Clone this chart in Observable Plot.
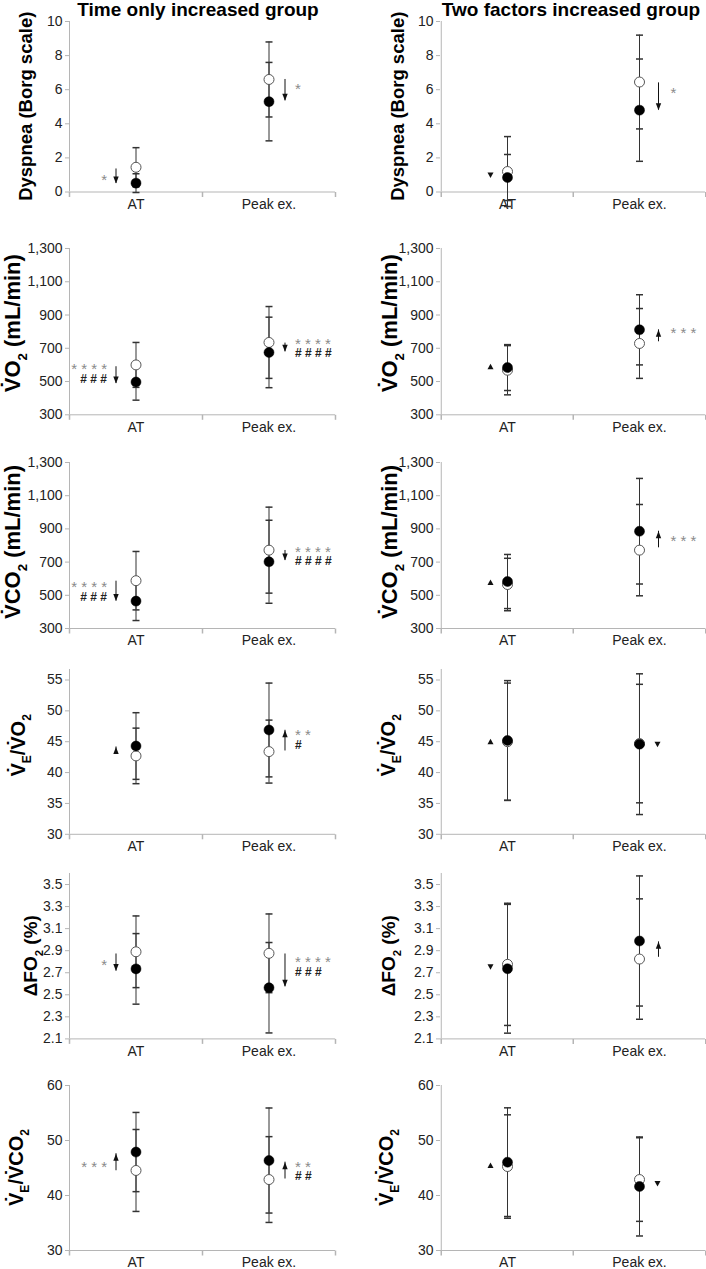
<!DOCTYPE html>
<html>
<head>
<meta charset="utf-8">
<script src="https://cdn.jsdelivr.net/npm/d3@7"></script>
<script src="https://cdn.jsdelivr.net/npm/@observablehq/plot@0.6"></script>
<style>
  body { margin: 0; background: #fff; }
  #chart { position: relative; width: 706px; height: 1269px; font-family: "Liberation Sans", Arial, sans-serif; overflow: hidden; }
  #chart svg { position: absolute; }
  .title { position: absolute; top: -1px; font-weight: bold; font-size: 19px; line-height: 22px; white-space: nowrap; transform: translateX(-50%); color: #000; }
</style>
</head>
<body>
<div id="chart"></div>
<script>
// ---------- categories ----------
const categories = ["AT", "Peak ex."];
const groups = ["Time only increased group", "Two factors increased group"];

// ---------- values: [time-only group, two-factors group] x [AT, Peak ex.] ----------
// open circle = before, filled circle = after; SD = error bar half-length
const dyspneaOpen = [[1.45, 6.6], [1.2, 6.45]];
const dyspneaOpenSD = [[1.15, 2.2], [2.05, 2.75]];
const dyspneaFilled = [[0.52, 5.3], [0.85, 4.8]];
const dyspneaFilledSD = [[0.55, 2.3], [1.35, 3.0]];

const vo2Open = [[600, 735], [568, 729]];
const vo2OpenSD = [[135, 216], [148, 210]];
const vo2Filled = [[497, 675], [584, 811]];
const vo2FilledSD = [[109, 212], [138, 211]];

const vco2Open = [[588, 772], [565, 772]];
const vco2OpenSD = [[176, 259], [158, 275]];
const vco2Filled = [[465, 702], [583, 886]];
const vco2FilledSD = [[117, 250], [163, 318]];

const vevo2Open = [[42.7, 43.4], [45.0, 44.7]];
const vevo2OpenSD = [[4.5, 5.1], [9.5, 9.6]];
const vevo2Filled = [[44.3, 46.9], [45.2, 44.6]];
const vevo2FilledSD = [[5.4, 7.6], [9.7, 11.4]];

const dfo2Open = [[2.89, 2.876], [2.776, 2.824]];
const dfo2OpenSD = [[0.325, 0.357], [0.554, 0.546]];
const dfo2Filled = [[2.735, 2.564], [2.736, 2.988]];
const dfo2FilledSD = [[0.32, 0.41], [0.584, 0.59]];

const vevco2Open = [[44.55, 42.9], [45.27, 42.9]];
const vevco2OpenSD = [[7.45, 7.8], [9.4, 7.6]];
const vevco2Filled = [[47.9, 46.36], [46.06, 41.64]];
const vevco2FilledSD = [[7.2, 9.55], [9.88, 9.0]];

// ---------- change arrows (from -> to), lone triangles, significance marks ----------
const dyspneaArrows = [[{phase: "AT", from: 1.35, to: 0.5}, {phase: "Peak ex.", from: 6.6, to: 5.35}],
                       [{phase: "Peak ex.", from: 6.4, to: 4.8}]];
const dyspneaTriangles = [[], [{phase: "AT", at: 1.0, dir: "down"}]];
const dyspneaSig = [[{phase: "AT", stars: 1, starY: 0.85}, {phase: "Peak ex.", stars: 1, starY: 6.2}],
                    [{phase: "Peak ex.", stars: 1, starY: 6.0}]];

const vo2Arrows = [[{phase: "AT", from: 589, to: 488}, {phase: "Peak ex.", from: 731, to: 679}],
                   [{phase: "Peak ex.", from: 739, to: 811}]];
const vo2Triangles = [[], [{phase: "AT", at: 589, dir: "up"}]];
const vo2Sig = [[{phase: "AT", stars: 4, starY: 595, hashes: 3, hashY: 528}, {phase: "Peak ex.", stars: 4, starY: 745, hashes: 4, hashY: 680}],
                [{phase: "Peak ex.", stars: 3, starY: 811}]];

const vco2Arrows = [[{phase: "AT", from: 585, to: 465}, {phase: "Peak ex.", from: 770, to: 710}],
                    [{phase: "Peak ex.", from: 786, to: 886}]];
const vco2Triangles = [[], [{phase: "AT", at: 577, dir: "up"}]];
const vco2Sig = [[{phase: "AT", stars: 4, starY: 565, hashes: 3, hashY: 501}, {phase: "Peak ex.", stars: 4, starY: 776, hashes: 4, hashY: 716}],
                 [{phase: "Peak ex.", stars: 3, starY: 846}]];

const vevo2Arrows = [[{phase: "AT", from: 43.0, to: 44.15}, {phase: "Peak ex.", from: 43.5, to: 46.85}], []];
const vevo2Triangles = [[], [{phase: "AT", at: 45.0, dir: "up"}, {phase: "Peak ex.", at: 44.6, dir: "down"}]];
const vevo2Sig = [[{phase: "Peak ex.", stars: 2, starY: 46.5, hashes: 1, hashY: 44.75}], []];

const dfo2Arrows = [[{phase: "AT", from: 2.87, to: 2.715}, {phase: "Peak ex.", from: 2.87, to: 2.573}],
                    [{phase: "Peak ex.", from: 2.84, to: 2.98}]];
const dfo2Triangles = [[], [{phase: "AT", at: 2.755, dir: "down"}]];
const dfo2Sig = [[{phase: "AT", stars: 1, starY: 2.80}, {phase: "Peak ex.", stars: 4, starY: 2.824, hashes: 3, hashY: 2.724}], []];

const vevco2Arrows = [[{phase: "AT", from: 44.5, to: 47.6}, {phase: "Peak ex.", from: 43.0, to: 46.06}], []];
const vevco2Triangles = [[], [{phase: "AT", at: 45.45, dir: "up"}, {phase: "Peak ex.", at: 42.2, dir: "down"}]];
const vevco2Sig = [[{phase: "AT", stars: 3, starY: 45.75}, {phase: "Peak ex.", stars: 2, starY: 45.75, hashes: 2, hashY: 43.9}], []];

// ---------- axes ----------
const dyspneaDomain = [0, 10], dyspneaTicks = [0, 2, 4, 6, 8, 10];
const flowDomain = [300, 1300], flowTicks = [300, 500, 700, 900, 1100, 1300];
const vevo2Domain = [30, 56.7], vevo2Ticks = [30, 35, 40, 45, 50, 55];
const dfo2Domain = [2.1, 3.6], dfo2Ticks = [2.1, 2.3, 2.5, 2.7, 2.9, 3.1, 3.3, 3.5];
const vevco2Domain = [30, 60], vevco2Ticks = [30, 40, 50, 60];

const V = "V\u0307";
const dyspneaLabel = [["Dyspnea (Borg scale)"]];
const vo2Label = [[V + "O"], ["2", true], [" (mL/min)"]];
const vco2Label = [[V + "CO"], ["2", true], [" (mL/min)"]];
const vevo2Label = [[V], ["E", true], ["/" + V + "O"], ["2", true]];
const dfo2Label = [["\u0394FO"], ["2", true], [" (%)"]];
const vevco2Label = [[V], ["E", true], ["/" + V + "CO"], ["2", true]];

// ---------- layout ----------
const rows = [
  {open: dyspneaOpen, openSD: dyspneaOpenSD, filled: dyspneaFilled, filledSD: dyspneaFilledSD, arrows: dyspneaArrows, tris: dyspneaTriangles, sig: dyspneaSig, domain: dyspneaDomain, ticks: dyspneaTicks, fmt: d3.format("d"), label: dyspneaLabel,
   top: 21, bottom: 191.5, labelSize: 18.5, labelX: [32, 51], labelDy: 0},
  {open: vo2Open, openSD: vo2OpenSD, filled: vo2Filled, filledSD: vo2FilledSD, arrows: vo2Arrows, tris: vo2Triangles, sig: vo2Sig, domain: flowDomain, ticks: flowTicks, fmt: d3.format(","), label: vo2Label,
   top: 247.7, bottom: 414, labelSize: 22, labelX: [20, 44], labelDy: -8},
  {open: vco2Open, openSD: vco2OpenSD, filled: vco2Filled, filledSD: vco2FilledSD, arrows: vco2Arrows, tris: vco2Triangles, sig: vco2Sig, domain: flowDomain, ticks: flowTicks, fmt: d3.format(","), label: vco2Label,
   top: 462.3, bottom: 628.3, labelSize: 22, labelX: [20, 44], labelDy: -3},
  {open: vevo2Open, openSD: vevo2OpenSD, filled: vevo2Filled, filledSD: vevo2FilledSD, arrows: vevo2Arrows, tris: vevo2Triangles, sig: vevo2Sig, domain: vevo2Domain, ticks: vevo2Ticks, fmt: d3.format("d"), label: vevo2Label,
   top: 668.5, bottom: 833.3, labelSize: 20, labelX: [25, 42], labelDy: -6},
  {open: dfo2Open, openSD: dfo2OpenSD, filled: dfo2Filled, filledSD: dfo2FilledSD, arrows: dfo2Arrows, tris: dfo2Triangles, sig: dfo2Sig, domain: dfo2Domain, ticks: dfo2Ticks, fmt: d3.format(".1f"), label: dfo2Label,
   top: 873.3, bottom: 1038.7, labelSize: 19, labelX: [37, 42], labelDy: 0},
  {open: vevco2Open, openSD: vevco2OpenSD, filled: vevco2Filled, filledSD: vevco2FilledSD, arrows: vevco2Arrows, tris: vevco2Triangles, sig: vevco2Sig, domain: vevco2Domain, ticks: vevco2Ticks, fmt: d3.format("d"), label: vevco2Label,
   top: 1085, bottom: 1250, labelSize: 20, labelX: [23, 40], labelDy: 0}
];

const FONT = '"Liberation Sans", Arial, Helvetica, sans-serif';
const W = 353;
const MT = 30, MB = 32;
const colML = [69, 87], colMR = [18, 1];

// custom symbols
const hline = {draw(c) { c.moveTo(-3.5, 0); c.lineTo(3.5, 0); }};
const vtick = {draw(c) { c.moveTo(0, 0); c.lineTo(0, 5); }};
const headDown = {draw(c) { c.moveTo(0, 0); c.lineTo(-2.7, -7); c.lineTo(2.7, -7); c.closePath(); }};
const headUp = {draw(c) { c.moveTo(0, 0); c.lineTo(-2.7, 7); c.lineTo(2.7, 7); c.closePath(); }};
const triDown = {draw(c) { c.moveTo(0, 3); c.lineTo(-3, -2.5); c.lineTo(3, -2.5); c.closePath(); }};
const triUp = {draw(c) { c.moveTo(0, -3); c.lineTo(-3, 2.5); c.lineTo(3, 2.5); c.closePath(); }};

const chart = document.getElementById("chart");

groups.forEach((gName, g) => {
  const t = document.createElement("div");
  t.className = "title";
  t.style.left = (g === 0 ? 198 : 571) + "px";
  t.textContent = gName;
  chart.appendChild(t);
});

function addYLabel(svg, parts, x, y, size) {
  const t = d3.select(svg).append("text")
    .attr("transform", `translate(${x},${y}) rotate(-90)`)
    .attr("text-anchor", "middle")
    .attr("font-weight", "bold")
    .attr("font-size", size)
    .attr("font-family", FONT)
    .attr("fill", "#000");
  let shift = 0;
  for (const [s, sub] of parts) {
    const target = sub ? size * 0.3 : 0;
    const ts = t.append("tspan").text(s);
    if (target !== shift) ts.attr("dy", target - shift);
    if (sub) ts.attr("font-size", size * 0.6);
    shift = target;
  }
}

rows.forEach((row, r) => {
  [0, 1].forEach(g => {
    const ml = colML[g], mr = colMR[g];
    const ph = row.bottom - row.top;
    const height = ph + MT + MB;
    const bw = (W - ml - mr) / 2;
    const [y0, y1] = row.domain;

    const pts = categories.map((c, i) => ({
      phase: c,
      open: row.open[g][i], openSD: row.openSD[g][i],
      filled: row.filled[g][i], filledSD: row.filledSD[g][i]
    }));
    const bars = pts.flatMap(d => [
      {phase: d.phase, lo: d.open - d.openSD, hi: d.open + d.openSD},
      {phase: d.phase, lo: d.filled - d.filledSD, hi: d.filled + d.filledSD}
    ]);
    const caps = bars.flatMap(b => [{phase: b.phase, v: b.lo}, {phase: b.phase, v: b.hi}]);

    const arrows = row.arrows[g];
    const tris = row.tris[g];
    const sig = row.sig[g].map(s => ({
      ...s,
      starText: s.stars ? Array(s.stars).fill("*").join(" ") : "",
      hashText: s.hashes ? Array(s.hashes).fill("#").join(" ") : ""
    }));

    const sideMarks = [];
    for (const [phase, arrowDx, textDx, anchor, triDx] of [
      ["AT", -20, -29, "end", -17],
      ["Peak ex.", g === 0 ? 16 : 19, g === 0 ? 26 : 31, "start", 18]
    ]) {
      const A = arrows.filter(a => a.phase === phase);
      const T = tris.filter(a => a.phase === phase);
      const S = sig.filter(a => a.phase === phase);
      sideMarks.push(
        Plot.ruleX(A, {x: "phase", y1: "from", y2: "to", dx: arrowDx, stroke: "#111", strokeWidth: 1}),
        Plot.dot(A, {x: "phase", y: "to", dx: arrowDx, symbol: d => d.to < d.from ? headDown : headUp, fill: "#111", stroke: "none"}),
        Plot.dot(T, {x: "phase", y: "at", dx: triDx, symbol: d => d.dir === "down" ? triDown : triUp, fill: "#111", stroke: "none"}),
        Plot.text(S.filter(s => s.stars), {x: "phase", y: "starY", text: "starText", dx: textDx, dy: 3, textAnchor: anchor, fill: "#8a8a8a", fontSize: 15, fontFamily: FONT}),
        Plot.text(S.filter(s => s.hashes), {x: "phase", y: "hashY", text: "hashText", dx: textDx, dy: 2, textAnchor: anchor, fill: "#222", fontSize: 12, fontWeight: "bold", fontFamily: FONT})
      );
    }

    const svg = Plot.plot({
      width: W,
      height,
      marginLeft: ml, marginRight: mr, marginTop: MT, marginBottom: MB,
      style: {fontFamily: FONT, fontSize: "14px", background: "transparent", overflow: "visible", color: "#222"},
      x: {type: "band", domain: categories, padding: 0, label: null},
      y: {domain: row.domain, label: null},
      marks: [
        Plot.ruleY([y0], {stroke: "#b5b5b5"}),
        Plot.ruleX([categories[0]], {y1: y0, y2: y1, dx: -bw / 2, stroke: "#b5b5b5"}),
        Plot.axisY({ticks: row.ticks, tickFormat: row.fmt, tickSize: 4, tickPadding: 3, stroke: "#b5b5b5", fill: "#222", fontSize: 14, label: null}),
        Plot.dot(categories, {x: d => d, y: y0, dx: -bw / 2, symbol: vtick, stroke: "#b5b5b5", fill: "none"}),
        Plot.dot([categories[1]], {x: d => d, y: y0, dx: bw / 2, symbol: vtick, stroke: "#b5b5b5", fill: "none"}),
        Plot.axisX({tickSize: 0, tickPadding: 7, fill: "#222", fontSize: 14, label: null}),
        Plot.ruleX(bars, {x: "phase", y1: "lo", y2: "hi", stroke: "#333", strokeWidth: 1}),
        Plot.dot(caps, {x: "phase", y: "v", symbol: hline, stroke: "#333", fill: "none"}),
        Plot.dot(pts, {x: "phase", y: "open", r: 5, fill: "white", stroke: "#555", strokeWidth: 1}),
        Plot.dot(pts, {x: "phase", y: "filled", r: 5, fill: "#000", stroke: "#000", strokeWidth: 0.5}),
        ...sideMarks
      ]
    });
    svg.style.left = (g * W) + "px";
    svg.style.top = (row.top - MT) + "px";
    addYLabel(svg, row.label, row.labelX[g], MT + ph / 2 + row.labelDy, row.labelSize);
    chart.appendChild(svg);
  });
});
</script>
</body>
</html>
